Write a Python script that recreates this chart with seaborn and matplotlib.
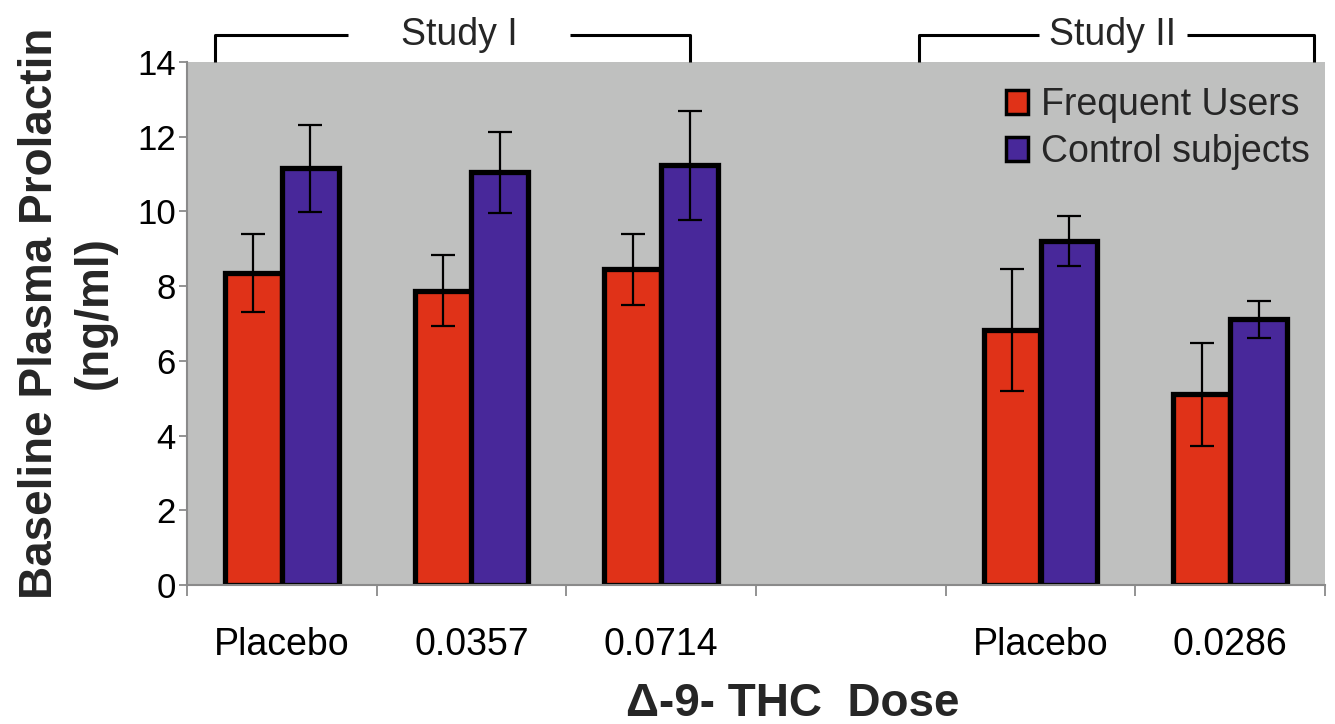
import matplotlib
matplotlib.use("Agg")
import matplotlib.pyplot as plt
from matplotlib.patches import Patch
from matplotlib.transforms import blended_transform_factory
import numpy as np
import pandas as pd
import seaborn as sns

# category slots on the x axis (one empty slot separates the two studies)
slots = ["I_placebo", "I_0.0357", "I_0.0714", "gap", "II_placebo", "II_0.0286"]
slot_labels = ["Placebo", "0.0357", "0.0714", "", "Placebo", "0.0286"]
data_slots = ["I_placebo", "I_0.0357", "I_0.0714", "II_placebo", "II_0.0286"]

groups = ["Frequent Users", "Control subjects"]
frequent_mean = [8.35, 7.88, 8.45, 6.82, 5.10]
frequent_err = [1.05, 0.95, 0.95, 1.63, 1.38]
control_mean = [11.15, 11.05, 11.23, 9.22, 7.11]
control_err = [1.17, 1.08, 1.45, 0.67, 0.50]

# study brackets: label, left end, right end, gap start, gap end (in slot units)
studies = [
    ("Study I", -0.35, 2.15, 0.35, 1.52),
    ("Study II", 3.36, 5.44, 3.99, 4.77),
]

colors = ["#e03218", "#48289a"]
bg_color = "#bfc0bf"

df = pd.DataFrame({
    "slot": data_slots * 2,
    "group": [groups[0]] * len(data_slots) + [groups[1]] * len(data_slots),
    "value": frequent_mean + control_mean,
    "err": frequent_err + control_err,
})

sns.set_theme(style="white")
plt.rcParams["font.family"] = ["Liberation Sans", "DejaVu Sans"]

fig = plt.figure(figsize=(13.35, 7.24), dpi=100)
ax = fig.add_axes([187 / 1335, 139 / 724, 1138 / 1335, 523 / 724])
ax.set_facecolor(bg_color)

sns.barplot(
    data=df, x="slot", y="value", hue="group",
    order=slots, hue_order=groups, palette=colors, saturation=1,
    width=0.6, edgecolor="black", linewidth=3.8,
    errorbar=None, legend=False, ax=ax,
)

# error bars on top of each bar
err_lookup = {(r.slot, r.group): r.err for r in df.itertuples()}
for container, grp in zip(ax.containers, groups):
    for bar in container:
        h = bar.get_height()
        if np.isnan(h):
            continue
        cx = bar.get_x() + bar.get_width() / 2
        slot = slots[int(round(cx))]
        ax.errorbar(cx, h, yerr=err_lookup[(slot, grp)], fmt="none",
                    ecolor="black", elinewidth=1.6, capsize=8.5,
                    capthick=1.6, zorder=5)

ax.set_ylim(0, 14)
ax.set_xlim(-0.5, len(slots) - 0.5)
ax.set_yticks(range(0, 15, 2))
ax.set_xticks(range(len(slots)))
ax.set_xticklabels(slot_labels)
ax.set_xticks(np.arange(-0.5, len(slots), 1), minor=True)

ax.tick_params(axis="y", left=True, length=6, width=1.3, color="#8a8a8a",
               labelsize=25, pad=2, labelcolor="black")
ax.tick_params(axis="x", which="major", bottom=True, length=0, pad=30,
               labelsize=27, labelcolor="black")
ax.tick_params(axis="x", which="minor", bottom=True, length=8, width=1.3,
               color="#8a8a8a", direction="out")

for side in ["top", "right"]:
    ax.spines[side].set_visible(False)
for side in ["left", "bottom"]:
    ax.spines[side].set_color("#8a8a8a")
    ax.spines[side].set_linewidth(1.5)

ax.set_ylabel("Baseline Plasma Prolactin\n(ng/ml)", fontsize=33,
              fontweight="bold", linespacing=1.3)
ax.yaxis.set_label_coords(-0.062, 0.52)
ax.set_xlabel("\u0394-9- THC  Dose", fontsize=33, fontweight="bold")
ax.xaxis.set_label_coords(0.532, -0.185)

handles = [Patch(facecolor=c, edgecolor="black", linewidth=2.5, label=g)
           for c, g in zip(colors, groups)]
ax.legend(handles=handles, loc="upper right", bbox_to_anchor=(0.987, 0.952),
          frameon=False, fontsize=27, handlelength=0.6, handleheight=0.6,
          handletextpad=0.35, labelspacing=0.3, borderaxespad=0,
          borderpad=0)

# study brackets above the plot
trans = blended_transform_factory(ax.transData, ax.transAxes)
for label, left, right, gap0, gap1 in studies:
    y_line = 1.052
    ax.plot([left, left, gap0], [1.0, y_line, y_line], color="black",
            lw=2.2, transform=trans, clip_on=False, solid_capstyle="butt")
    ax.plot([gap1, right, right], [y_line, y_line, 1.0], color="black",
            lw=2.2, transform=trans, clip_on=False, solid_capstyle="butt")
    ax.text((gap0 + gap1) / 2, y_line, label, transform=trans, ha="center",
            va="center", fontsize=27)

fig.savefig("out.png", dpi=100, facecolor="white")
